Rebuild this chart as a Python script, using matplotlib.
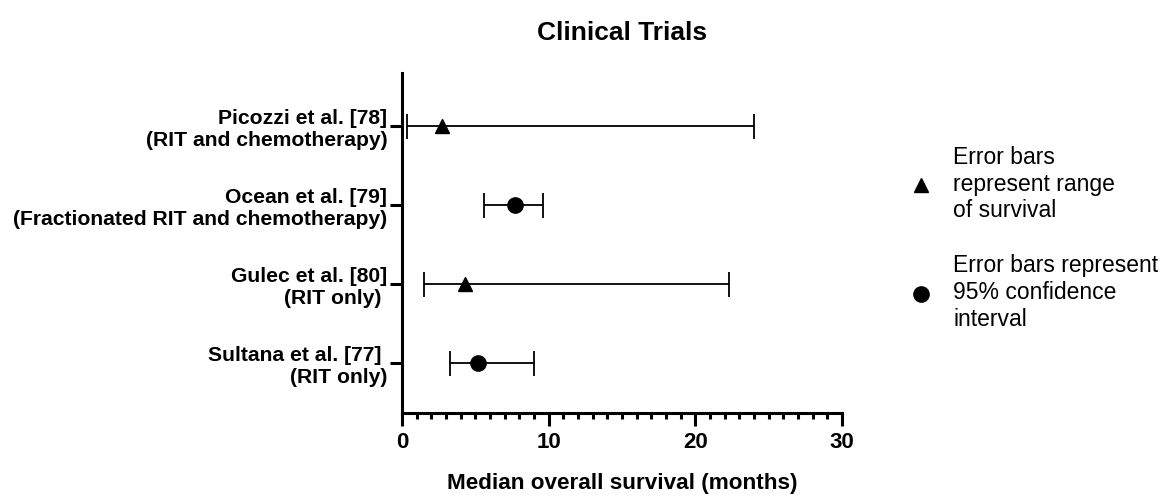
import matplotlib
matplotlib.use("Agg")
import matplotlib.pyplot as plt
from matplotlib.ticker import MultipleLocator
from matplotlib.lines import Line2D

plt.rcParams['font.family'] = ['Liberation Sans', 'DejaVu Sans']

studies = ["Sultana et al. [77] \n(RIT only)",
           "Gulec et al. [80]\n(RIT only) ",
           "Ocean et al. [79]\n(Fractionated RIT and chemotherapy)",
           "Picozzi et al. [78]\n(RIT and chemotherapy)"]
median = [5.2, 4.3, 7.7, 2.7]
low = [3.3, 1.5, 5.6, 0.35]
high = [9.0, 22.3, 9.6, 24.0]
markers = ["o", "^", "o", "^"]

fig = plt.figure(figsize=(11.68, 4.97), dpi=100)
ax = fig.add_axes([402/1168, 1 - 413/497, 440/1168, 340/497])

for i, (m, lo, hi, mk) in enumerate(zip(median, low, high, markers)):
    ax.errorbar(m, i, xerr=[[m - lo], [hi - m]], fmt=mk, color="black",
                ecolor="black", elinewidth=1.3, capsize=9, capthick=1.3,
                markersize=11 if mk == "o" else 10.5)

ax.set_xlim(0, 30)
ax.set_ylim(-0.63, 3.67)
ax.set_yticks(range(len(studies)))
ax.set_yticklabels(studies, fontsize=15.2, fontweight="bold")
ax.xaxis.set_major_locator(MultipleLocator(10))
ax.xaxis.set_minor_locator(MultipleLocator(1))
for lab in ax.get_xticklabels():
    lab.set_fontweight("bold")
ax.tick_params(axis="x", which="major", length=9, width=2.2, labelsize=16, pad=5)
ax.tick_params(axis="x", which="minor", length=4, width=2.2)
ax.tick_params(axis="y", which="major", length=8.5, width=2.2, pad=2)
for s in ["top", "right"]:
    ax.spines[s].set_visible(False)
for s in ["left", "bottom"]:
    ax.spines[s].set_linewidth(2.2)

ax.set_xlabel("Median overall survival (months)", fontsize=16.2, fontweight="bold", labelpad=14)
fig.text(622/1168, 1 - 33/497, "Clinical Trials", fontsize=19, fontweight="bold",
         ha="center", va="center")

handles = [Line2D([], [], marker="^", color="black", linestyle="none", markersize=10.5),
           Line2D([], [], marker="o", color="black", linestyle="none", markersize=11)]
labels = ["Error bars\nrepresent range\nof survival",
          "Error bars represent\n95% confidence\ninterval"]
fig.legend(handles, labels, loc="upper left", bbox_to_anchor=(900/1168, 1 - 137/497),
           frameon=False, fontsize=16.5, handletextpad=0.93, labelspacing=1.4,
           handlelength=1.0, borderaxespad=0)

fig.savefig("out.png", dpi=100)
